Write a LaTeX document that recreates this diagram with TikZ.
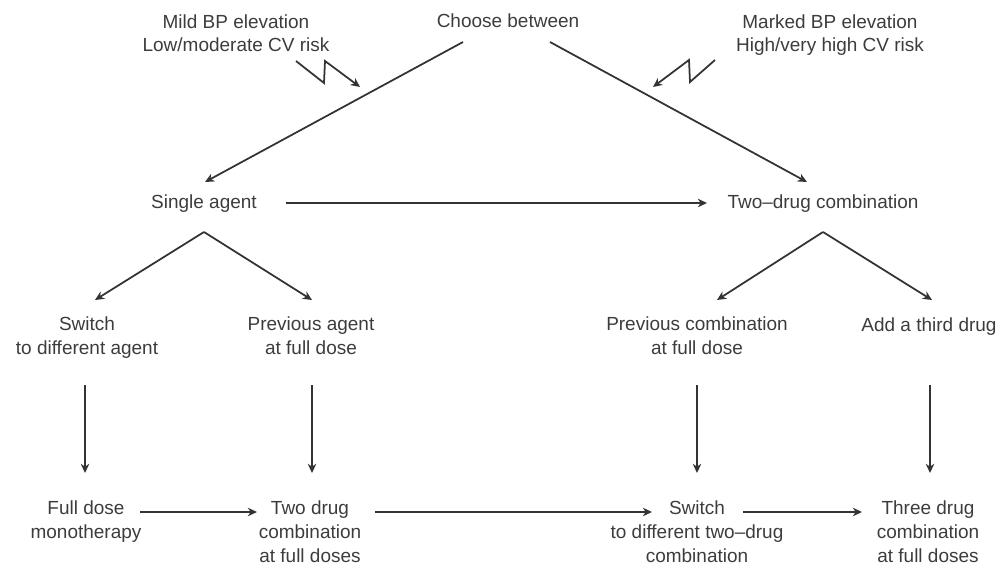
\documentclass[tikz,border=0pt]{standalone}
\usepackage{fontspec}
\setmainfont{Liberation Sans}
\usetikzlibrary{calc,arrows.meta}
\definecolor{inkgray}{HTML}{333333}
\definecolor{txtgray}{HTML}{3C3C3C}
\tikzset{
  txt/.style={text=txtgray, align=center, inner sep=2pt, anchor=base, font=\fontsize{13.5}{16.8}\selectfont},
  arr/.style={draw=inkgray, line width=1.25pt, -{Stealth[length=6.5pt,width=6pt,inset=2pt]}}
}

\begin{document}
\begin{tikzpicture}[x=0.025cm,y=-0.025cm]
			%%%%% START %%%%%
			
			\useasboundingbox (0,0) rectangle (1002,565);
			
			\node[txt] (mild) at (236,52) {Mild BP elevation\\Low/moderate CV risk};
			\node[txt] (choose) at (508,28) {Choose between};
			\node[txt] (marked) at (830,52) {Marked BP elevation\\High/very high CV risk};
			
			\node[txt] (single) at (204,208) {Single agent};
			\node[txt] (twodrug) at (823,208) {Two–drug combination};
			
			\node[txt] (switch) at (87,354) {Switch\\to different agent};
			\node[txt] (prevagent) at (311,354) {Previous agent\\at full dose};
			\node[txt] (prevcomb) at (697,354) {Previous combination\\at full dose};
			\node[txt] (third) at (929,331) {Add a third drug};
			
			\node[txt] (fullmono) at (86,538) {Full dose\\monotherapy};
			\node[txt] (twofull) at (310,562) {Two drug\\combination\\at full doses};
			\node[txt] (switchtwo) at (697,562) {Switch\\to different two–drug\\combination};
			\node[txt] (threefull) at (928,562) {Three drug\\combination\\at full doses};
			
			\draw[arr] ($(choose.base)+(-45,14)$) -- ($(single.base)+(1,-26)$);
			\draw[arr] ($(choose.base)+(42,14)$) -- ($(twodrug.base)+(-16,-26)$);
			
			\draw[arr] ($(mild.base)+(60,9)$) -- ++(28,22) -- ++(1,-22) -- ++(35,26);
			\draw[arr] ($(marked.base)+(-115,8)$) -- ++(-25,22) -- ++(-1,-22) -- ++(-36,27);
			
			\draw[arr] ($(single.base)+(82,-5)$) -- ($(twodrug.base)+(-116,-5)$);
			
			\coordinate (singlefork) at ($(single.base)+(0,24)$);
			\draw[arr] (singlefork) -- ($(switch.base)+(8,-54)$);
			\draw[arr] (singlefork) -- ($(prevagent.base)+(1,-54)$);
			\coordinate (twofork) at ($(twodrug.base)+(0,24)$);
			\draw[arr] (twofork) -- ($(prevcomb.base)+(20,-54)$);
			\draw[arr] (twofork) -- ($(third.base)+(3,-31)$);
			
			\draw[arr] ($(switch.base)+(-2,31)$) -- ($(fullmono.base)+(-1,-65)$);
			\draw[arr] ($(prevagent.base)+(1,31)$) -- ($(twofull.base)+(2,-89)$);
			\draw[arr] ($(prevcomb.base)+(0,31)$) -- ($(switchtwo.base)+(0,-89)$);
			\draw[arr] ($(third.base)+(1,54)$) -- ($(threefull.base)+(2,-89)$);
			
			\draw[arr] ($(fullmono.base)+(54,-26)$) -- ($(twofull.base)+(-53,-50)$);
			\draw[arr] ($(twofull.base)+(65,-50)$) -- ($(switchtwo.base)+(-45,-50)$);
			\draw[arr] ($(switchtwo.base)+(46,-50)$) -- ($(threefull.base)+(-66,-50)$);
			
			%%%%% END %%%%%
\end{tikzpicture}
\end{document}
